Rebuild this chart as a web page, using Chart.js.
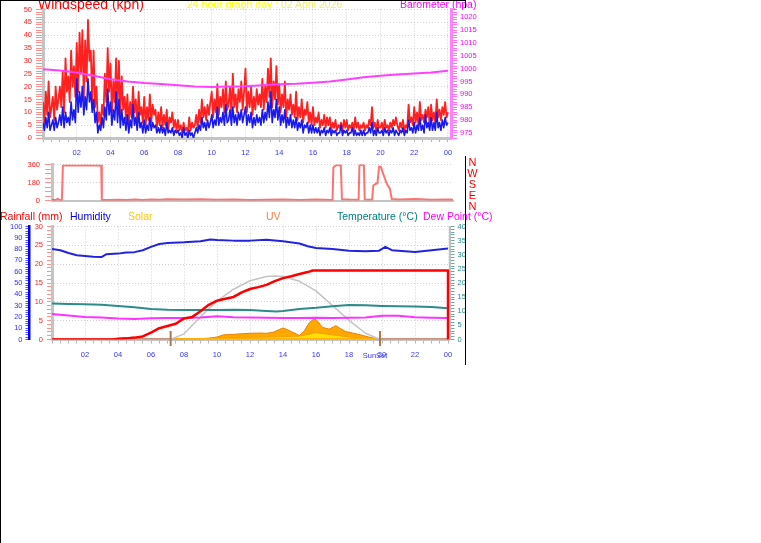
<!DOCTYPE html>
<html><head><meta charset="utf-8">
<script src="https://cdn.jsdelivr.net/npm/chart.js@4.4.1/dist/chart.umd.min.js"></script>
<style>
html,body{margin:0;padding:0;background:#fff;}
#wrap{position:relative;width:761px;height:543px;overflow:hidden;background:#fff;font-family:"Liberation Sans",Arial,Helvetica,sans-serif;}
canvas{position:absolute;left:0;}
.t{position:absolute;white-space:nowrap;line-height:1;}
.ln{position:absolute;background:#000;}
</style></head><body>
<div id="wrap">
<canvas id="c1" width="480" height="165" style="top:0px;width:480px;height:165px"></canvas>
<canvas id="c2" width="480" height="55" style="top:155px;width:480px;height:55px"></canvas>
<canvas id="c3" width="480" height="150" style="top:218px;width:480px;height:150px"></canvas>
<div class="t" style="left:38px;top:-3.5px;font-size:14px;color:#ff0000">Windspeed (kph)</div>
<div class="t" style="left:187px;top:-0.6px;font-size:10.5px;color:#ffff00">24 hour graph day : <span style="color:#eeee70">02 April 2026</span></div>
<div class="t" style="left:400px;top:-0.6px;font-size:10.5px;color:#ff00ff">Barometer (hpa)</div>
<div class="t" style="left:0px;top:210.6px;font-size:10.5px;color:#ff0000">Rainfall (mm)</div>
<div class="t" style="left:70px;top:210.6px;font-size:10.5px;color:#0000ff">Humidity</div>
<div class="t" style="left:128px;top:210.6px;font-size:10.5px;color:#ffc800">Solar</div>
<div class="t" style="left:266px;top:210.6px;font-size:10.5px;color:#ff8040">UV</div>
<div class="t" style="left:337px;top:210.6px;font-size:10.5px;color:#008080">Temperature (°C)</div>
<div class="t" style="left:423px;top:210.6px;font-size:10.5px;color:#ff00ff">Dew Point (°C)</div>
<div class="t" style="left:467px;top:156.5px;width:11px;text-align:center;font-size:11px;line-height:11px;color:#ff0000">N<br>W<br>S<br>E<br>N</div>
<div class="ln" style="left:0;top:0;width:466px;height:1px"></div>
<div class="ln" style="left:0;top:0;width:1px;height:543px"></div>
<div class="ln" style="left:465px;top:0;width:1px;height:8px"></div>
<div class="ln" style="left:465px;top:156px;width:1px;height:209px"></div>
</div>
<script>
// ---------- data ----------
const hourTicks  = [2,4,6,8,10,12,14,16,18,20,22,24];
const hourLabels = ['02','04','06','08','10','12','14','16','18','20','22','00'];
const halfHours  = Array.from({length:49}, (_, i) => i * 0.5);   // minor tick positions

// wind gust (kph), every 5 minutes from 00:00 to 24:00 (12 per hour)
const gust = [
 14,6,18,9,22,8,12,16,7,20,11,15,
 20,12,26,10,31,18,24,14,34,20,28,16,
 37,18,41,25,42,15,38,22,46,30,34,14,
 34,12,20,6,10,5,13,9,25,14,35,18,
 29,10,22,14,31,12,30,9,24,11,16,7,
 17,6,14,8,20,10,15,5,18,9,12,6,
 16,5,12,7,17,6,13,9,11,4,10,5,
 12,4,9,5,11,3,8,6,10,4,7,3,
 7,3,5,2,6,3,4,2,8,3,6,4,
 5,9,4,11,6,15,8,12,7,13,9,14,
 18,8,15,10,21,9,16,12,19,10,22,11,
 13,20,9,25,12,17,10,19,14,22,11,18,
 27,10,18,12,20,9,16,11,19,13,17,12,
 23,11,20,14,27,16,31,12,22,15,28,13,
 21,10,17,12,22,8,15,11,17,9,13,8,
 18,7,12,8,15,6,11,9,14,6,10,5,
 12,5,8,6,10,4,7,5,9,4,8,5,
 8,3,6,4,7,3,5,4,6,3,7,4,
 7,3,5,4,6,3,8,4,6,3,5,4,
 6,3,5,4,7,5,12,4,6,3,7,4,
 4,6,3,7,4,5,3,6,4,7,5,8,
 5,3,6,4,7,3,5,4,13,6,8,5,
 12,6,10,5,14,7,9,6,11,8,12,5,
 13,7,10,6,15,8,11,7,12,9,14,8,
 10];
// average wind speed (kph), every 5 minutes
const wind = [
 6,3,8,4,10,3,5,7,3,8,4,6,
 9,5,12,4,10,6,8,5,14,7,11,6,
 23,10,18,12,20,9,16,11,23,14,18,10,
 15,6,10,2,5,3,8,4,12,7,19,9,
 14,5,11,7,18,6,15,4,11,5,8,3,
 9,2,7,4,13,5,8,3,10,4,6,2,
 7,2,5,3,8,3,6,4,5,2,4,2,
 5,2,4,1,6,2,3,2,4,1,3,2,
 3,1,2,0,4,1,2,0,3,1,2,0,
 2,4,2,5,3,8,4,6,3,7,4,6,
 9,4,7,5,12,5,8,6,10,5,13,6,
 7,11,5,12,6,9,5,10,7,11,6,9,
 12,5,9,6,10,4,8,5,9,6,8,5,
 11,6,10,7,14,8,18,6,11,8,15,7,
 12,5,9,6,11,4,8,5,9,4,7,4,
 8,3,6,4,7,2,5,4,6,2,5,2,
 5,2,4,2,4,1,3,2,4,1,3,2,
 4,1,3,2,3,1,2,2,5,1,3,2,
 3,1,2,2,4,1,3,1,2,1,3,1,
 3,1,2,2,4,2,6,1,3,1,4,2,
 2,3,1,4,2,3,1,3,2,4,1,3,
 2,1,3,2,4,1,3,2,7,3,4,2,
 6,2,5,3,8,3,5,2,9,4,6,3,
 8,3,6,3,10,4,6,3,7,4,8,5,
 6];
const baroHours = [0,1,2,3,4,5,6,7,8,9,10,11,12,13,14,15,16,17,18,19,20,21,22,23,24];
const baro = [999.8,999.3,998.5,997.2,995.9,995.0,994.4,994.0,993.5,993.0,992.8,993.0,993.1,993.5,993.9,994.1,994.5,995.0,995.8,996.6,997.2,997.7,998.1,998.5,999.2];

const dirTimes  = [0,0.25,0.35,0.45,0.6,0.66,1.0,1.5,2.0,2.5,2.98,3.02,3.5,4,4.5,5,5.5,6,6.5,7,8,9,10,11,12,13,14,15,16,17.0,17.05,17.2,17.5,17.57,18,18.58,18.63,18.9,18.95,19.4,19.47,19.6,19.72,19.82,19.92,20.08,20.28,20.48,20.59,21,22,23,24,24.3];
const dirValues = [5,6,18,5,6,350,352,351,353,350,351,6,4,8,5,9,6,10,7,12,9,13,7,9,6,8,10,5,11,6,330,352,355,12,9,8,356,358,10,8,150,165,172,340,338,262,170,114,15,10,14,7,9,8];

const humTimes  = [0,0.5,1,1.5,2,2.5,3,3.3,4,4.5,5,5.5,6,6.5,7,8,9,9.6,10,11,12,13,14,15,15.5,16,17,18,19,19.8,20.2,20.6,21,22,23,24];
const humValues = [80,79,76.5,74.5,73.8,73.2,73,75.5,76,77,77.3,79,82,84.5,85.5,86,86.9,88.4,88,87.5,87.5,88.3,87,85,82.5,81,80,78.5,78,78.5,82,79,78.5,77.5,79,80.5];

const rainTimes  = [0,3.7,4,4.5,5,5.5,6,6.5,7,7.5,8,8.5,9,9.5,10,10.5,11,11.5,12,12.5,13,13.5,14,14.5,15,15.5,15.8,24,24];
const rainValues = [0,0,0.2,0.3,0.5,0.8,1.8,3.0,3.6,4.2,5.6,6.0,7.5,9.2,10.3,10.8,11.3,12.5,13.4,13.9,14.5,15.5,16.3,16.8,17.4,17.9,18.3,18.3,0];

const tempTimes  = [0,1,2,3,4,5,6,7,8,9,10,11,12,13,13.6,14,15,16,17,18,19,20,21,22,23,24];
const tempValues = [12.7,12.6,12.5,12.3,11.9,11.4,10.8,10.5,10.4,10.4,10.4,10.5,10.4,10.1,9.9,10.1,10.8,11.2,11.8,12.2,12.1,11.9,11.8,11.7,11.5,11.1];

const dewTimes  = [0,1,2,3,4,5,6,7,8,9,10,11,12,13,14,15,16,17,18,19,20,21,22,23,24];
const dewValues = [9.0,8.5,8.0,7.8,7.4,7.3,7.5,7.6,7.6,7.8,8.2,7.9,7.8,7.7,7.6,7.6,7.7,7.6,7.7,7.8,8.4,8.4,7.9,7.7,7.6];

const solarMaxTimes  = [7.19,8,9,10,11,12,13,13.5,14,15,16,17,18,19,19.88];
const solarMaxValues = [0,50,200,340,445,520,558,563,558,515,430,300,170,55,0];

const solarTimes  = [7.19,8,9,9.5,10,10.4,11,11.4,12,12.6,13,13.4,13.8,14,14.3,14.5,15,15.3,15.6,15.9,16.1,16.4,16.8,17.2,17.5,17.8,18.5,19.2,19.88];
const solarValues = [0,5,8,12,22,41,45,50,55,57,55,64,90,102,85,70,35,80,150,185,160,107,92,122,95,70,48,22,0];

const solar2Times  = [7.19,9,10,11,12,13,14,15,15.5,16,16.5,17,18,19,19.88];
const solar2Values = [0,3,12,18,20,22,25,30,45,61,50,41,22,10,0];

const uvTimes  = [0,7.19,19.88,24];
const uvValues = [0,0,0,0];

const sunrise = 7.19, sunset = 19.88;

// ---------- helpers ----------
const FAM = '"Liberation Sans", Arial, Helvetica, sans-serif';
const tf = {family: FAM, size: 7.5};
const GRID = '#d0d0d0';
const TR = 'rgba(0,0,0,0)';
const near = (a,b) => Math.abs(a-b) < 1e-6;
const isMult = (v,s) => near(v/s, Math.round(v/s));
const fixW = w => s => { s.width = w; };
const fixH = h => s => { s.height = h; };
const hourLabel = v => { const i = hourTicks.findIndex(h => near(h, v)); return i < 0 ? '' : hourLabels[i]; };
const hourGrid = c => (c.tick && hourTicks.some(h => near(h, c.tick.value))) ? GRID : TR;
const xy = (ts, vs) => ts.map((t,i) => ({x:t, y:vs[i]}));
const labEvery = s => v => isMult(v, s) ? String(v) : '';
const gridEvery = (s, col, skipZero) => c => (c.tick && isMult(c.tick.value, s) && !(skipZero && near(c.tick.value,0))) ? col : TR;

function base(pad){
  return {responsive:false, animation:false, events:[],
    layout:{padding:pad},
    plugins:{legend:{display:false}, tooltip:{enabled:false}},
    elements:{point:{radius:0}, line:{tension:0, borderJoinStyle:'round'}}};
}
function xAxis(max, h, pad){
  return {type:'linear', min:0, max:max, afterFit:fixH(h),
    afterBuildTicks: axis => { axis.ticks = halfHours.map(v => ({value:v})); },
    ticks:{stepSize:0.5, maxTicksLimit:1000, autoSkip:false, maxRotation:0, minRotation:0, color:'#3333ff', font:tf, padding:pad, callback:hourLabel},
    grid:{color:hourGrid, tickColor:'#b4b4b4', tickLength:4, lineWidth:1},
    border:{display:true, color:'#c4c4c4', width:3, dash:[1,2]}};
}

// ---------- top chart: wind & barometer ----------
const o1 = base({top:9.5, left:0, right:0, bottom:0});
o1.scales = {
  x: xAxis(24.18, 27, 6.5),
  y: {position:'left', min:0, max:50, afterFit:fixW(43),
      ticks:{stepSize:1, maxTicksLimit:1000, autoSkip:false, color:'#ff2020', font:tf, padding:4, callback:labEvery(5)},
      grid:{color:gridEvery(5, GRID, true), tickColor:'#ff9090', tickLength:7},
      border:{color:'#c4c4c4', width:3, dash:[1,2]}},
  yB:{position:'right', min:973, max:1023, afterFit:fixW(29),
      ticks:{stepSize:1, maxTicksLimit:1000, autoSkip:false, color:'#ff00ff', font:tf, padding:3, callback:labEvery(5)},
      grid:{drawOnChartArea:false, tickColor:'#ff70ff', tickLength:6},
      border:{color:'#ff80ff', width:3}}
};
new Chart(document.getElementById('c1'), {type:'line', data:{datasets:[
  {label:'Barometer', data:xy(baroHours, baro), yAxisID:'yB', borderColor:'#ff40ff', borderWidth:2, order:0},
  {label:'Wind', data:wind.map((v,i)=>({x:i/12, y:v})), yAxisID:'y', borderColor:'#1a1aee', borderWidth:1.6, order:1},
  {label:'Gust', data:gust.map((v,i)=>({x:i/12, y:v})), yAxisID:'y', borderColor:'#ff2020', borderWidth:1.8, order:2}
]}, options:o1});

// ---------- middle chart: wind direction ----------
const o2 = base({top:7.7, left:0, right:27, bottom:0});
o2.scales = {
  x:{type:'linear', min:0, max:24.3, afterFit:fixH(8.3), ticks:{display:false}, grid:{display:false},
     border:{display:true, color:'#c4c4c4', width:2}},
  y:{position:'left', min:0, max:360, afterFit:fixW(52),
     ticks:{stepSize:45, maxTicksLimit:1000, autoSkip:false, color:'#ff2020', font:tf, padding:5, callback:labEvery(180)},
     grid:{color:gridEvery(180, GRID, true), tickColor:'#ff9090', tickLength:7},
     border:{color:'#c4c4c4', width:3, dash:[1,2]}}
};
new Chart(document.getElementById('c2'), {type:'line', data:{datasets:[
  {label:'Direction', data:xy(dirTimes, dirValues), borderColor:'rgba(255,60,60,0.72)', borderWidth:2}
]}, options:o2});

// ---------- bottom chart ----------
const sunPlugin = {
  id:'sun',
  afterDatasetsDraw(chart){
    const {ctx, chartArea, scales} = chart;
    const x = scales.x, yb = chartArea.bottom;
    ctx.save();
    ctx.strokeStyle = '#a87850'; ctx.lineWidth = 2;
    [sunrise, sunset].forEach(t => {
      const px = x.getPixelForValue(t);
      ctx.beginPath(); ctx.moveTo(px, yb - 8.5); ctx.lineTo(px, yb + 6.5); ctx.stroke();
    });
    ctx.fillStyle = '#3333ff';
    ctx.font = '7.5px ' + FAM;
    ctx.textAlign = 'center'; ctx.textBaseline = 'middle';
    ctx.fillText('SunSet', x.getPixelForValue(sunset) - 5, yb + 16);
    ctx.restore();
  }
};
const o3 = base({top:7, left:0, right:0, bottom:0});
o3.scales = {
  x: xAxis(24.09, 28.5, 7),
  yRain:{position:'left', min:0, max:30, afterFit:fixW(22.5),
     ticks:{stepSize:1, maxTicksLimit:1000, autoSkip:false, color:'#ff2020', font:tf, padding:4, callback:labEvery(5)},
     grid:{color:gridEvery(5, GRID, true), tickColor:'#ff9090', tickLength:5},
     border:{color:'#c4c4c4', width:3, dash:[1,2]}},
  yHum:{position:'left', min:0, max:100, afterFit:fixW(29.5),
     ticks:{stepSize:2, maxTicksLimit:1000, autoSkip:false, color:'#3030ff', font:tf, padding:3, callback:labEvery(10)},
     grid:{drawOnChartArea:false, tickColor:'#5050ff', tickLength:4},
     border:{color:'#0000ff', width:2.5}},
  yTemp:{position:'right', min:0, max:40, afterFit:fixW(30.5),
     ticks:{stepSize:1, maxTicksLimit:1000, autoSkip:false, color:'#2a8a8a', font:tf, padding:3, callback:labEvery(5)},
     grid:{drawOnChartArea:false, tickColor:'#70a8a8', tickLength:5},
     border:{color:'#b8c4c4', width:2}},
  ySolar:{display:false, min:0, max:1000}
};
new Chart(document.getElementById('c3'), {type:'line', data:{datasets:[
  {label:'Rainfall', data:xy(rainTimes, rainValues), yAxisID:'yRain', borderColor:'#ff0000', borderWidth:2.5, order:0},
  {label:'Humidity', data:xy(humTimes, humValues), yAxisID:'yHum', borderColor:'#2323dd', borderWidth:2, order:1},
  {label:'Temperature', data:xy(tempTimes, tempValues), yAxisID:'yTemp', borderColor:'#2e8b8b', borderWidth:2, order:2},
  {label:'Dew Point', data:xy(dewTimes, dewValues), yAxisID:'yTemp', borderColor:'#ff33ff', borderWidth:2, order:3},
  {label:'Solar max', data:xy(solarMaxTimes, solarMaxValues), yAxisID:'ySolar', borderColor:'#c4c4c4', borderWidth:1.5, order:4},
  {label:'UV', data:xy(uvTimes, uvValues), yAxisID:'ySolar', borderWidth:3, borderColor:'#c8907a', order:5,
     segment:{borderColor: c => (c.p0.parsed.x >= sunrise - 1e-6 && c.p0.parsed.x < sunset - 1e-6) ? '#ffb000' : '#c8907a'}},
  {label:'Solar', data:xy(solar2Times, solar2Values), yAxisID:'ySolar', borderColor:'#f0a000', borderWidth:1, backgroundColor:'#ffe000', fill:'origin', order:6},
  {label:'Solar2', data:xy(solarTimes, solarValues), yAxisID:'ySolar', borderColor:'#ee8000', borderWidth:1, backgroundColor:'#ffa800', fill:'origin', order:7}
]}, options:o3, plugins:[sunPlugin]});
</script>
</body></html>
